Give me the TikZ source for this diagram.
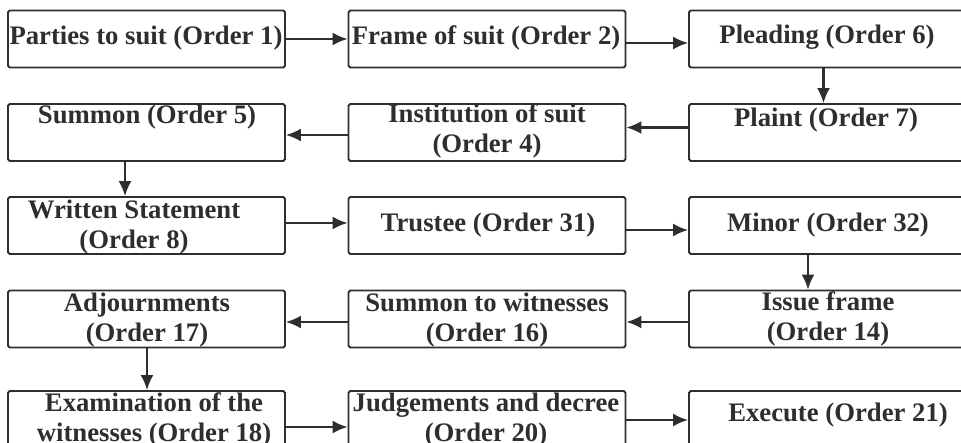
\documentclass[tikz,border=0pt]{standalone}
\usepackage{fontspec}
\setmainfont{Liberation Serif}
\usetikzlibrary{arrows.meta,calc,positioning}
\tikzset{>={Latex[length=3mm,width=2.6mm]}}
\definecolor{inkgray}{HTML}{2E2E2E}
\tikzset{stagebox/.style={draw=inkgray, line width=1.1pt, rounded corners=1pt, minimum width=5.54cm, minimum height=1.14cm, inner sep=0pt},
  stagetext/.style={text=inkgray, font=\fontsize{15.2}{17}\selectfont\bfseries, align=center, inner sep=0pt},
  flow/.style={->, draw=inkgray, line width=1.2pt}}

\begin{document}
\begin{tikzpicture}[x=0.02cm,y=-0.02cm]
\clip (0,0) rectangle (961,443);
% boxes
\node[stagebox] (parties) at (146.5,39) {};
\node[stagebox] (frame) at (487,39) {};
\node[stagebox] (pleading) at (827.5,39) {};
\node[stagebox] (summon) at (146.5,132.5) {};
\node[stagebox] (institution) at (487,132.5) {};
\node[stagebox] (plaint) at (827.5,132.5) {};
\node[stagebox] (written) at (146.5,225.5) {};
\node[stagebox] (trustee) at (487,225.5) {};
\node[stagebox] (minor) at (827.5,225.5) {};
\node[stagebox] (adjourn) at (146.5,319) {};
\node[stagebox] (witsummon) at (487,319) {};
\node[stagebox] (issue) at (827.5,319) {};
\node[stagebox] (exam) at (146.5,419.5) {};
\node[stagebox] (judge) at (487,419.5) {};
\node[stagebox] (execute) at (827.5,419.5) {};
% texts
\node[stagetext] (partiest) at (146,38) {Parties to suit (Order 1)};
\node[stagetext] (framet) at (486,38) {Frame of suit (Order 2)};
\node[stagetext] (pleadingt) at (827,37) {Pleading (Order 6)};
\node[stagetext] (summont) at (147,117) {Summon (Order 5)};
\node[stagetext] (institutiont) at (487,131) {Institution of suit\\(Order 4)};
\node[stagetext] (plaintt) at (826,120) {Plaint (Order 7)};
\node[stagetext] (writtent) at (134,227) {Written Statement\\(Order 8)};
\node[stagetext] (trusteet) at (488,225) {Trustee (Order 31)};
\node[stagetext] (minort) at (828,225) {Minor (Order 32)};
\node[stagetext] (adjournt) at (147,320) {Adjournments\\(Order 17)};
\node[stagetext] (witsummont) at (487,320) {Summon to witnesses\\(Order 16)};
\node[stagetext] (issuet) at (828,319) {Issue frame\\(Order 14)};
\node[stagetext] (examt) at (154,420) {Examination of the\\witnesses (Order 18)};
\node[stagetext] (judget) at (486,420) {Judgements and decree\\(Order 20)};
\node[stagetext] (executet) at (838,415) {Execute (Order 21)};
% flow
\draw[flow] (parties.east) -- (frame.west);
\draw[flow] ($(frame.east)+(0,4)$) -- ($(pleading.west)+(0,4)$);
\draw[flow] ($(pleading.south)+(-4,0)$) -- ($(plaint.north)+(-4,0)$);
\draw[flow] ($(plaint.west)+(0,-5)$) -- ($(institution.east)+(0,-5)$);
\draw[flow] ($(institution.west)+(0,2.5)$) -- ($(summon.east)+(0,2.5)$);
\draw[flow] ($(summon.south)+(-21.5,0)$) -- ($(written.north)+(-21.5,0)$);
\draw[flow] ($(written.east)+(0,-2.5)$) -- ($(trustee.west)+(0,-2.5)$);
\draw[flow] ($(trustee.east)+(0,4.5)$) -- ($(minor.west)+(0,4.5)$);
\draw[flow] ($(minor.south)+(-19.5,0)$) -- ($(issue.north)+(-19.5,0)$);
\draw[flow] ($(issue.west)+(0,3)$) -- ($(witsummon.east)+(0,3)$);
\draw[flow] ($(witsummon.west)+(0,3)$) -- ($(adjourn.east)+(0,3)$);
\draw[flow] ($(adjourn.south)+(0.5,0)$) -- ($(exam.north)+(0.5,0)$);
\draw[flow] ($(exam.east)+(0,7.5)$) -- ($(judge.west)+(0,7.5)$);
\draw[flow] ($(judge.east)+(0,0.5)$) -- ($(execute.west)+(0,0.5)$);
\end{tikzpicture}
\end{document}
